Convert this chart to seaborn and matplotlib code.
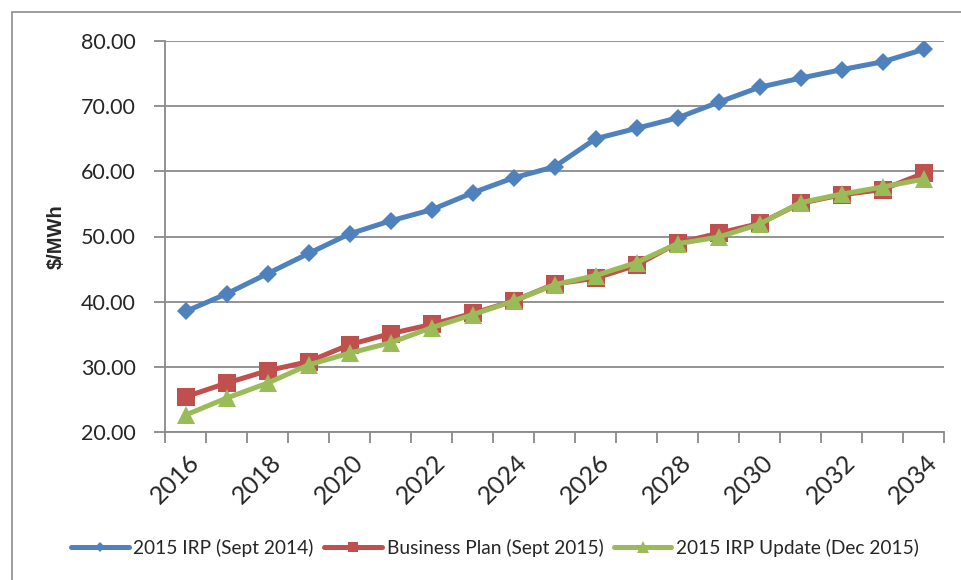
import matplotlib
matplotlib.use("Agg")
import matplotlib.pyplot as plt
import matplotlib.transforms as mtransforms
import seaborn as sns
import pandas as pd
import numpy as np
from matplotlib.patches import Rectangle

years = list(range(2016, 2035))
irp_2014 = [38.5, 41.2, 44.3, 47.4, 50.4, 52.4, 54.1, 56.7, 59.0, 60.7, 65.0, 66.6, 68.2, 70.6, 72.9, 74.3, 75.6, 76.8, 78.7]
bp_2015 = [25.4, 27.5, 29.4, 30.8, 33.4, 35.1, 36.5, 38.2, 40.1, 42.7, 43.6, 45.6, 49.0, 50.5, 52.0, 55.1, 56.4, 57.2, 59.7]
irp_update = [22.6, 25.2, 27.5, 30.3, 32.1, 33.7, 36.0, 38.0, 40.1, 42.6, 44.0, 46.0, 48.9, 49.9, 51.9, 55.2, 56.5, 57.6, 58.8]
series_names = ["2015 IRP (Sept 2014)", "Business Plan (Sept 2015)", "2015 IRP Update (Dec 2015)"]
y_ticks = [20, 30, 40, 50, 60, 70, 80]

sns.set_theme(style="white")
plt.rcParams['font.family'] = ['Lato', 'DejaVu Sans']

fig = plt.figure(figsize=(9.61, 5.8), dpi=100)
ax = fig.add_axes([165/961, 1-432/580, (944-165)/961, (432-41)/580])

# outer chart frame
fig.patches.append(Rectangle((12/961, -0.05), 1.0, 1 - 12/580 + 0.05, transform=fig.transFigure,
                             fill=False, edgecolor="#8c8c8c", linewidth=1.2))

colors = ["#4F81BD", "#C0504D", "#9BBB59"]
markers = ["D", "s", "^"]
msizes = [9, 12.5, 13.5]
xs = np.arange(len(years))
for vals, name, c, m, ms in zip([irp_2014, bp_2015, irp_update], series_names, colors, markers, msizes):
    df = pd.DataFrame({"x": xs, "y": vals})
    sns.lineplot(data=df, x="x", y="y", ax=ax, color=c, linewidth=3.6, marker=m,
                 markersize=ms, markeredgewidth=0, label=name, zorder=3)

ax.set_xlim(-0.5, len(years) - 0.5)
ax.set_ylim(20, 80)
ax.set_yticks(y_ticks)
ax.set_yticklabels([f"{v:.2f}" for v in y_ticks], fontsize=15.5)
ax.yaxis.grid(True, color="#8a8a8a", linewidth=1.3)
ax.xaxis.grid(False)
for s in ["top", "right"]:
    ax.spines[s].set_visible(False)
for s in ["left", "bottom"]:
    ax.spines[s].set_color("#8a8a8a")
    ax.spines[s].set_linewidth(1.3)
ax.tick_params(axis="y", which="major", length=8, color="#8a8a8a", width=1.3, pad=13, left=True)

ax.set_xticks(xs[::2])
ax.set_xticklabels([str(y) for y in years[::2]], rotation=45, ha="right",
                   rotation_mode="anchor", fontsize=18)
ax.set_xticks(np.arange(-0.5, len(years), 1.0), minor=True)
ax.tick_params(axis="x", which="major", length=0, pad=13)
ax.tick_params(axis="x", which="minor", length=8, color="#8a8a8a", width=1.3, bottom=True)
offset = mtransforms.ScaledTranslation(2/100, 0, fig.dpi_scale_trans)
for lbl in ax.get_xticklabels():
    lbl.set_transform(lbl.get_transform() + offset)

ax.set_xlabel("")
ax.set_ylabel("$/MWh", fontsize=14.5, fontweight="bold", family=["Liberation Sans", "DejaVu Sans"])
ax.yaxis.set_label_coords((66 - 165) / 779, 0.5)

leg = ax.legend(loc="center", bbox_to_anchor=(495/961, 1 - 548/580), bbox_transform=fig.transFigure,
                ncol=3, frameon=False, fontsize=13.8, handlelength=3.0, handletextpad=0.25,
                columnspacing=0.55, markerscale=0.6, borderpad=0)

fig.savefig("out.png", dpi=100)
